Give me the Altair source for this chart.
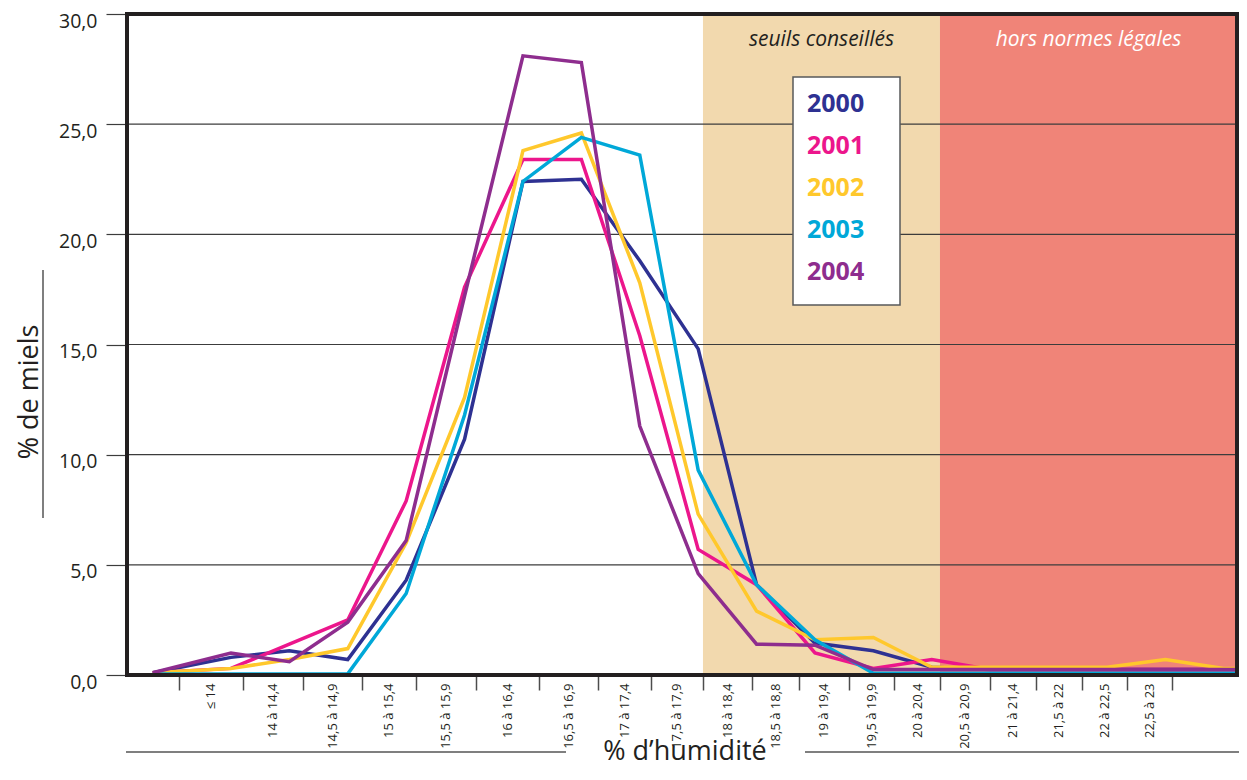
import altair as alt
import pandas as pd

# ---------------- data ----------------
YEARS = ["2000", "2001", "2002", "2003", "2004"]
COLORS = ["#2e3192", "#ec168c", "#ffc82c", "#00a8d8", "#8e2d8e"]

# position of each plotted point along the humidity axis
POINT_X = [13.33, 14.0, 14.5, 15.0, 15.5, 16.0, 16.5, 17.0, 17.5, 18.0,
           18.5, 19.0, 19.5, 20.0, 20.5, 21.0, 21.5, 22.0, 22.5, 23.0]

V2000 = [0.1, 0.8, 1.1, 0.7, 4.3, 10.7, 22.4, 22.5, 18.8, 14.8,
         4.1, 1.45, 1.1, 0.35, 0.25, 0.25, 0.25, 0.25, 0.25, 0.25]
V2001 = [0.1, 0.3, 1.4, 2.5, 7.9, 17.6, 23.4, 23.4, 15.4, 5.7,
         4.1, 1.0, 0.3, 0.7, 0.25, 0.25, 0.25, 0.25, 0.25, 0.25]
V2002 = [0.1, 0.3, 0.7, 1.2, 6.0, 12.6, 23.8, 24.6, 17.8, 7.3,
         2.9, 1.6, 1.7, 0.35, 0.35, 0.35, 0.35, 0.7, 0.3, 0.3]
V2003 = [0.05, 0.05, 0.05, 0.05, 3.7, 11.8, 22.4, 24.4, 23.6, 9.3,
         4.1, 1.6, 0.08, 0.08, 0.08, 0.08, 0.08, 0.08, 0.08, 0.08]
V2004 = [0.1, 1.0, 0.6, 2.4, 6.1, 17.2, 28.1, 27.8, 11.3, 4.6,
         1.4, 1.35, 0.25, 0.25, 0.25, 0.25, 0.25, 0.25, 0.25, 0.25]
SERIES = [V2000, V2001, V2002, V2003, V2004]

CLASS_LABELS = ["\u2264 14", "14 à 14,4", "14,5 à 14,9", "15 à 15,4", "15,5 à 15,9",
                "16 à 16,4", "16,5 à 16,9", "17 à 17,4", "17,5 à 17,9", "18 à 18,4",
                "18,5 à 18,8", "19 à 19,4", "19,5 à 19,9", "20 à 20,4", "20,5 à 20,9",
                "21 à 21,4", "21,5 à 22", "22 à 22,5", "22,5 à 23"]
CLASS_EDGES = [13.555, 14.103, 14.616, 15.122, 15.584, 16.098, 16.637, 17.142,
               17.596, 18.041, 18.461, 18.863, 19.291, 19.677, 20.070, 20.498,
               20.892, 21.286, 21.671, 22.057]

X_MIN, X_MAX = 13.11, 22.613

ZONE_LABELS = ["seuils conseillés", "hors normes légales"]
ZONE_START = [18.041, 20.070]
ZONE_END = [20.070, X_MAX]
ZONE_FILL = ["#f2d9ae", "#f08478"]
ZONE_TEXT = ["#231f20", "#ffffff"]

Y_TICKS = [0, 5, 10, 15, 20, 25, 30]
GRID = [5, 10, 15, 20, 25]

# ---------------- chart ----------------
W, H = 1110, 661
FONT = "Open Sans"
INK = "#231f20"

rows = []
for year, vals in zip(YEARS, SERIES):
    for x, v in zip(POINT_X, vals):
        rows.append({"year": year, "x": x, "v": v})
df = pd.DataFrame(rows)

zones_df = pd.DataFrame({"label": ZONE_LABELS, "start": ZONE_START, "end": ZONE_END,
                         "fill": ZONE_FILL, "tcolor": ZONE_TEXT})

mids = [(a + b) / 2 for a, b in zip(CLASS_EDGES[:-1], CLASS_EDGES[1:])]
expr = "''"
for i in reversed(range(len(CLASS_LABELS))):
    expr = f"datum.value < {CLASS_EDGES[i + 1]} ? '{CLASS_LABELS[i]}' : ({expr})"

xscale = alt.Scale(domain=[X_MIN, X_MAX], nice=False, zero=False)
yscale = alt.Scale(domain=[0, 30], nice=False, zero=True)

tick_axis = alt.Axis(values=CLASS_EDGES, labels=False, tickSize=15, tickColor="#4d4d4d",
                     tickWidth=1.5, domain=False, grid=False, title=None, orient="bottom")
label_axis = alt.Axis(values=mids, labelExpr=expr, ticks=False, labelAngle=270,
                      labelPadding=8, labelFont=FONT, labelFontSize=13, labelColor=INK,
                      domain=False, grid=False, title=None, orient="bottom",
                      labelFlush=False, labelOverlap=False)


def y_axis():
    return alt.Axis(values=Y_TICKS,
                    labelExpr="replace(format(datum.value, '.1f'), '.', ',')",
                    tickSize=21, tickColor="#3c3c3c", tickWidth=1.2,
                    domain=False, grid=False, title=None, labelFont=FONT, labelFontSize=19.5,
                    labelColor=INK, labelPadding=9, labelBaseline="middle", labelOffset=7,
                    labelFlush=False, labelOverlap=False, orient="left")


bands = alt.Chart(zones_df).mark_rect(clip=True).encode(
    x=alt.X("start:Q", scale=xscale, axis=tick_axis),
    x2="end:Q",
    y=alt.value(0), y2=alt.value(H),
    color=alt.Color("fill:N", scale=None),
)

grid = alt.Chart(pd.DataFrame({"g": GRID})).mark_rule(color="#3c3c3c", strokeWidth=1.2).encode(
    y=alt.Y("g:Q", scale=yscale, axis=y_axis())
)

lines = alt.Chart(df).mark_line(strokeWidth=3.5, strokeJoin="miter", clip=True).encode(
    x=alt.X("x:Q", scale=xscale, axis=label_axis),
    y=alt.Y("v:Q", scale=yscale, axis=y_axis()),
    color=alt.Color("year:N", scale=alt.Scale(domain=YEARS, range=COLORS), legend=None),
)

one = pd.DataFrame({"k": [0]})
box = alt.Chart(one).mark_rect(fill="white", stroke="#58595b", strokeWidth=1.5).encode(
    x=alt.value(666), x2=alt.value(773), y=alt.value(63), y2=alt.value(291)
)

legend_layers = []
for i, (yr, col) in enumerate(zip(YEARS, COLORS)):
    legend_layers.append(
        alt.Chart(pd.DataFrame({"t": [yr]})).mark_text(
            align="left", baseline="middle", font=FONT, fontSize=25, fontWeight="bold",
            color=col
        ).encode(text="t:N", x=alt.value(680), y=alt.value(90 + 42 * i))
    )

headers = alt.Chart(zones_df).transform_calculate(
    mid="(datum.start + datum.end) / 2"
).mark_text(font=FONT, fontSize=21, fontStyle="italic", baseline="middle").encode(
    x=alt.X("mid:Q", scale=xscale, axis=None),
    y=alt.value(26),
    text="label:N",
    color=alt.Color("tcolor:N", scale=None),
)

frame = alt.Chart(one).mark_rect(filled=False, color=INK, strokeWidth=4).encode(
    x=alt.value(0), x2=alt.value(W), y=alt.value(0), y2=alt.value(H)
)

ytitle = alt.Chart(pd.DataFrame({"t": ["% de miels"]})).mark_text(
    font=FONT, fontSize=27, angle=270, align="center", baseline="middle", color=INK
).encode(text="t:N", x=alt.value(-97), y=alt.value(378))

xtitle = alt.Chart(pd.DataFrame({"t": ["% d\u2019humidité"]})).mark_text(
    font=FONT, fontSize=27, align="center", baseline="alphabetic", color=INK
).encode(text="t:N", x=alt.value(558), y=alt.value(746))

deco_style = dict(color="#7f7f7f", strokeWidth=2)
deco_y = alt.Chart(one).mark_rule(**deco_style).encode(
    x=alt.value(-84), y=alt.value(256), y2=alt.value(504))
deco_x1 = alt.Chart(one).mark_rule(**deco_style).encode(
    x=alt.value(-1), x2=alt.value(439), y=alt.value(738))
deco_x2 = alt.Chart(one).mark_rule(**deco_style).encode(
    x=alt.value(678), x2=alt.value(1113), y=alt.value(738))

chart = alt.layer(
    bands, grid, lines, box, *legend_layers, headers, frame,
    ytitle, xtitle, deco_y, deco_x1, deco_x2
).resolve_axis(x="independent").properties(
    width=W, height=H,
    padding={"left": 119, "top": 6, "right": 2, "bottom": 93},
    autosize=alt.AutoSizeParams(type="none"),
).configure_view(stroke=None)

chart.save("out.html", embed_options={"renderer": "svg", "actions": False})
